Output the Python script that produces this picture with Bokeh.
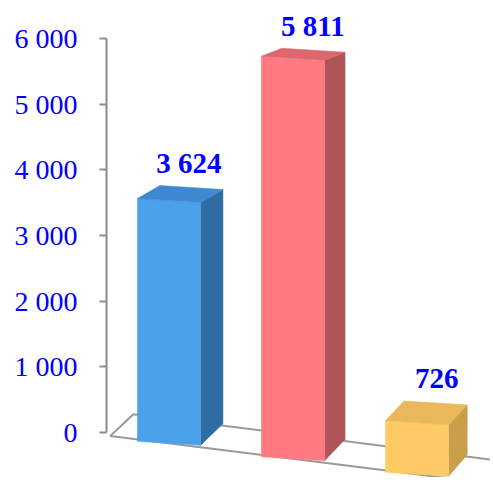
from bokeh.plotting import figure
from bokeh.models import Range1d, FixedTicker, ColumnDataSource
from bokeh.embed import file_html
from bokeh.resources import INLINE
from bokeh.core.properties import value as pval

# ---- data ----
positions = [0, 1, 2]
values = [3624, 5811, 726]
value_labels = ["3 624", "5 811", "726"]
front_colors = ["#4BA0EA", "#FF7B81", "#FFCB66"]
side_colors = ["#2F6CA3", "#AD5558", "#C89F4A"]
top_colors = ["#4089D2", "#DC676C", "#E8B85A"]
tick_values = [0, 1000, 2000, 3000, 4000, 5000, 6000]
tick_labels = ["0", "1 000", "2 000", "3 000", "4 000", "5 000", "6 000"]

# ---- pseudo-3D projection (style) ----
HW = 0.255
def base(x):
    return -165 - 236 * x
def kf(x):
    return 1.02 + 0.03 * x
def dxu(x):
    return 0.18 - 0.015 * x
def dyu(v):
    return 330 - 0.036 * v
def pt(x, d, v, xc=None):
    xc = x if xc is None else xc
    xb = 0.5 * (x + xc)
    return (x + d * dxu(xc), base(xb) + kf(xc) * v + d * dyu(v))

W, H, LEFT = 490, 477, 106
PX_PER_UNIT = 124.0
PY = 394.0 / 6000.0
x0 = (LEFT - 168.5) / PX_PER_UNIT
x1 = x0 + (W - LEFT) / PX_PER_UNIT
y1 = 6000 + 38 / PY
y0 = -(H - 432) / PY

p = figure(width=W, height=H, output_backend="svg", toolbar_location=None,
           x_range=Range1d(x0, x1), y_range=Range1d(y0, y1),
           x_axis_location=None, min_border_left=LEFT, min_border_right=0,
           min_border_top=0, min_border_bottom=0)
p.outline_line_color = None
p.grid.visible = False
p.background_fill_color = "white"
p.border_fill_color = "white"

# floor
xl, xr = x0 + 0.03, x1 + 0.1
floor = [pt(xl, 0, 0), pt(xr, 0, 0), pt(xr, 1, 0), pt(xl, 1, 0)]
p.patch([c[0] for c in floor], [c[1] for c in floor], fill_color="white",
        line_color="#9A9A9A", line_width=2)

# bars
xs, ys, cols = [], [], []
for xc, v, fc, sc, tc in zip(positions, values, front_colors, side_colors, top_colors):
    side = [pt(xc + HW, 0, 0, xc), pt(xc + HW, 1, 0, xc), pt(xc + HW, 1, v, xc), pt(xc + HW, 0, v, xc)]
    front = [pt(xc - HW, 0, 0, xc), pt(xc + HW, 0, 0, xc), pt(xc + HW, 0, v, xc), pt(xc - HW, 0, v, xc)]
    top = [pt(xc - HW, 0, v, xc), pt(xc + HW, 0, v, xc), pt(xc + HW, 1, v, xc), pt(xc - HW, 1, v, xc)]
    for face, col in ((side, sc), (front, fc), (top, tc)):
        xs.append([c[0] for c in face])
        ys.append([c[1] for c in face])
        cols.append(col)
p.patches(xs=xs, ys=ys, fill_color=cols, line_color=cols, line_width=0.5)

# value labels
lab = ColumnDataSource(dict(
    x=[xc + 0.16 for xc in positions],
    y=[base(xc) + kf(xc) * v + dyu(v) for xc, v in zip(positions, values)],
    t=value_labels))
p.text(x="x", y="y", text="t", source=lab, text_align="center",
       text_baseline="alphabetic", y_offset=-24,
       text_font=pval("Liberation Serif"), text_font_style="bold",
       text_font_size="29px", text_color="#0000FF")

# y axis
ax = p.yaxis[0]
ax.bounds = (0, 6000)
ax.ticker = FixedTicker(ticks=tick_values)
ax.major_label_overrides = {t: l for t, l in zip(tick_values, tick_labels)}
ax.major_label_text_font = "Liberation Serif"
ax.major_label_text_font_size = "28px"
ax.major_label_text_color = "#0000FF"
ax.major_label_standoff = 22
ax.axis_line_color = "#8C8C8C"
ax.axis_line_width = 2
ax.major_tick_line_color = "#8C8C8C"
ax.major_tick_line_width = 2
ax.major_tick_out = 7
ax.major_tick_in = 0
ax.minor_tick_line_color = None

open("out.html", "w").write(file_html(p, INLINE))
